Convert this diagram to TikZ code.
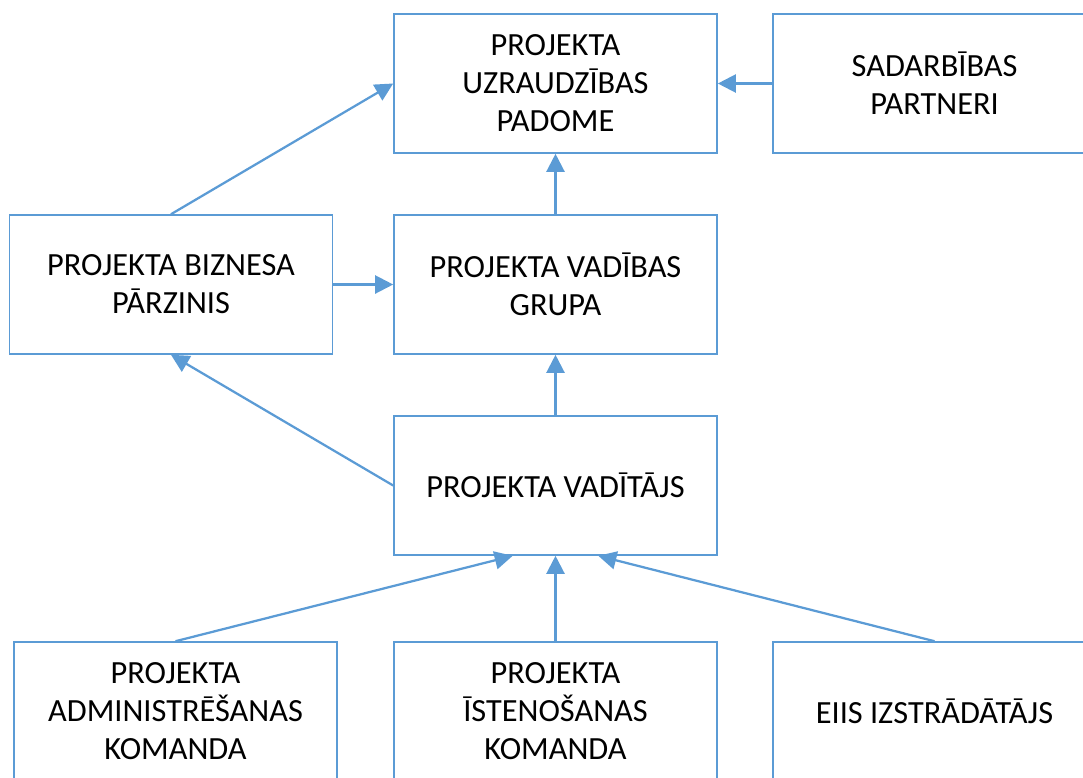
\documentclass[tikz,border=0pt]{standalone}
\usepackage{fontspec}
\setmainfont{Carlito}
\usetikzlibrary{arrows.meta,positioning}
\definecolor{lineblue}{HTML}{5B9BD5}

\begin{document}
\begin{tikzpicture}[x=0.025cm,y=-0.025cm,
  box/.style={rectangle,draw=lineblue,line width=1.1pt,minimum width=8.075cm,minimum height=3.475cm,align=center,inner sep=0pt,font=\fontsize{23}{27}\selectfont},
  link/.style={draw=lineblue,line width=1.6pt,-{Triangle[length=0.45cm,width=0.45cm]}}]
\clip (0,0) rectangle (1083,777);
\node[box] (padome) at (555.5,83.5) {PROJEKTA\\UZRAUDZĪBAS\\PADOME};
\node[box] (partneri) at (934.5,83.5) {SADARBĪBAS\\PARTNERI};
\node[box] (biznesa) at (171,284.5) {PROJEKTA BIZNESA\\PĀRZINIS};
\node[box] (grupa) at (555.5,284.5) {PROJEKTA VADĪBAS\\GRUPA};
\node[box] (vaditajs) at (555.5,485.5) {PROJEKTA VADĪTĀJS};
\node[box] (admin) at (175.5,711.5) {PROJEKTA\\ADMINISTRĒŠANAS\\KOMANDA};
\node[box] (istenosana) at (555.5,711.5) {PROJEKTA\\ĪSTENOŠANAS\\KOMANDA};
\node[box] (eiis) at (934.5,711.5) {EIIS IZSTRĀDĀTĀJS};

\draw[link] (partneri.west) -- (padome.east);
\draw[link] (grupa.north) -- (padome.south);
\draw[link] (biznesa.north) -- (padome.west);
\draw[link] (biznesa.east) -- (grupa.west);
\draw[link] (vaditajs.north) -- (grupa.south);
\draw[link] (vaditajs.west) -- (biznesa.south);
\draw[link] (admin.north) -- ([xshift=-1.07cm]vaditajs.south);
\draw[link] (istenosana.north) -- (vaditajs.south);
\draw[link] (eiis.north) -- ([xshift=1.07cm]vaditajs.south);

\end{tikzpicture}
\end{document}
